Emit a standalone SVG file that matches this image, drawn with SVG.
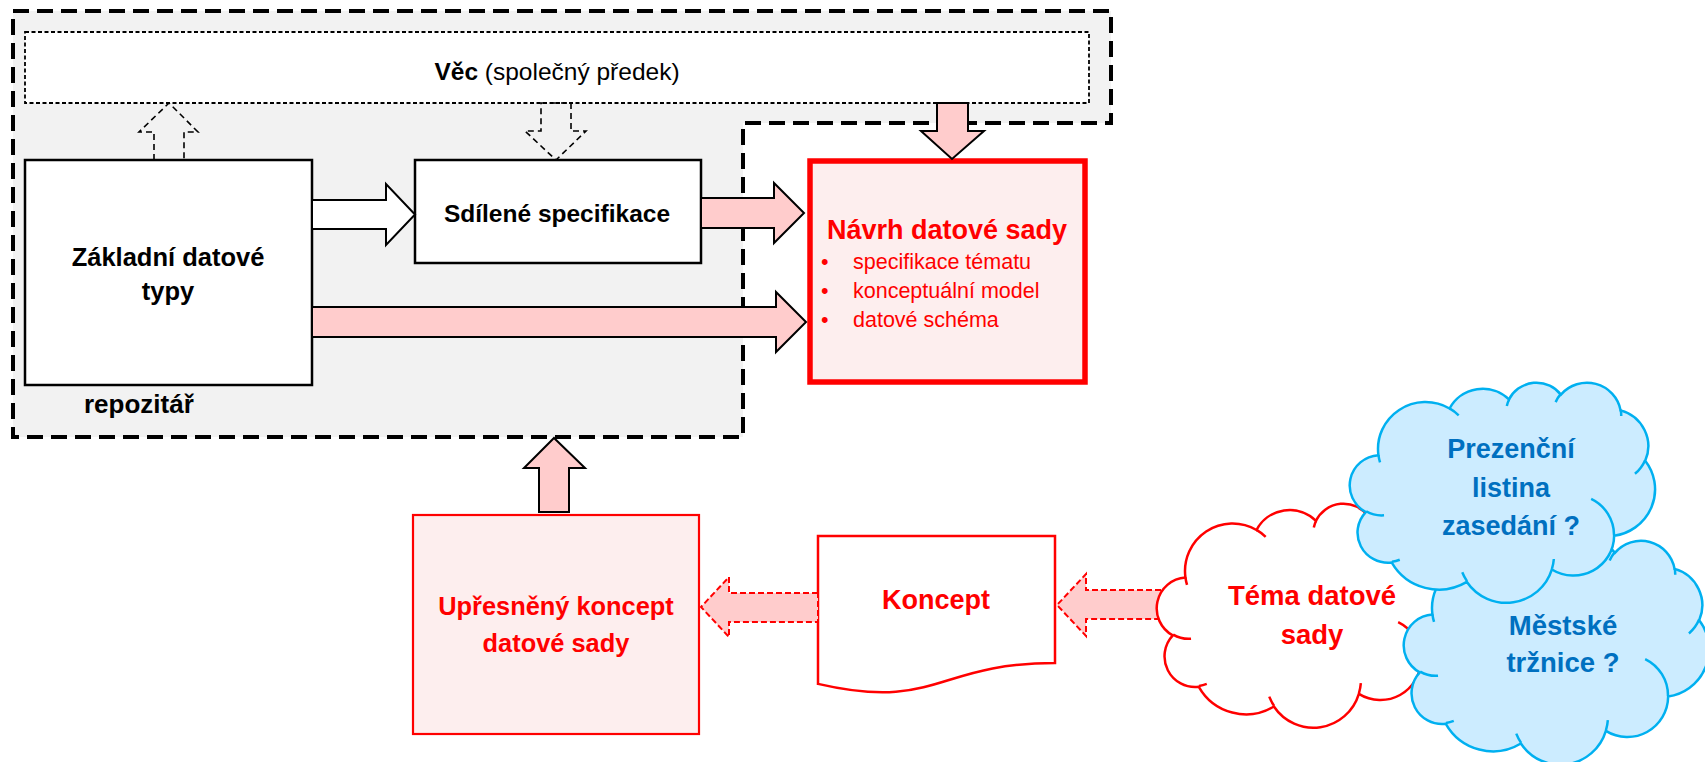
<svg xmlns="http://www.w3.org/2000/svg" xmlns:xlink="http://www.w3.org/1999/xlink" width="1705" height="762" viewBox="0 0 1705 762">
<style>
text{font-family:"Liberation Sans",Arial,sans-serif}
.b{font-weight:bold}
.blk{fill:#000}
.red{fill:#FF0000}
.blu{fill:#0070C0}
.box{fill:#fff;stroke:#000;stroke-width:2.5}
.pbox{fill:#FDEEEE;stroke:#FF0000}
.arw{stroke:#000;stroke-width:2;stroke-linejoin:miter}
.pink{fill:#FFCCCC}
.dashb{fill:none;stroke:#000;stroke-width:1.6;stroke-dasharray:6 4}
.dashr{fill:#FFCCCC;stroke:#FF0000;stroke-width:2;stroke-dasharray:6 3}
.cRed{fill:#fff;stroke:#FF0000;stroke-width:2.5}
.cBlue{fill:#CCECFF;stroke:#00B0F0;stroke-width:2.5}
.hRed{fill:none;stroke:#FF0000;stroke-width:2.5}
.hBlue{fill:none;stroke:#00B0F0;stroke-width:2.5}
</style>
<defs>
<path id="cloudBody" vector-effect="non-scaling-stroke" d="M39,143.7 A67.53,91.9 0 0 1 140.02,52 A53.33,72.67 0 0 1 224.5,34.27 A43.65,59.45 0 0 1 298.27,24.77 A48.57,65.95 0 0 1 383.11,55.73 A53.33,72.73 0 0 1 418.1,154.56 A67.75,92.2 0 0 1 373.94,301.96 A57.85,78.67 0 0 1 285.45,368.06 A67.52,92.15 0 0 1 164.69,392.58 A77.2,105.43 0 0 1 57.97,354.6 A43.6,59.18 0 0 1 21.03,255.4 A43.45,59.45 0 0 1 39,143.7 Z"/>
<path id="cloudHooks" vector-effect="non-scaling-stroke" d="M46.93,261.77 A43.45,59.45 0 0 1 21.58,253.79 M69.28,348.99 A43.6,59.18 0 0 1 58.2,352.8 M164.78,390.9 A67.52,92.15 0 0 1 158.1,373.51 M288.27,347.51 A67.52,92.15 0 0 1 285.61,366.6 M341.29,229.54 A57.85,78.67 0 0 1 373.77,300.87 M417.98,153.54 A53.33,72.73 0 0 1 403.5,180.3 M383.24,54.26 A48.57,65.95 0 0 1 384,66.9 M290.78,39.52 A48.57,65.95 0 0 1 298.2,23.39 M221.41,47.2 A43.65,59.45 0 0 1 225,33.3 M140,51.92 A67.53,91.9 0 0 1 153.03,65.43 M41.27,157.89 A67.53,91.9 0 0 1 39,143.7"/>
</defs>

<g id="repozitar">
<path d="M13,11 H1111 V123 H743 V437 H13 Z" fill="#F2F2F2" stroke="#000" stroke-width="4" stroke-dasharray="16 8"/>
<text x="84" y="413" font-size="26" class="b blk">repozitář</text>
</g>

<g id="vec">
<rect x="25" y="32" width="1064" height="71" fill="#fff" stroke="#000" stroke-width="1.8" stroke-dasharray="4 2.5"/>
<text x="557" y="80" font-size="24.5" text-anchor="middle" class="blk"><tspan class="b">Věc</tspan> (společný předek)</text>
</g>

<g id="zakladni">
<rect x="25" y="160" width="287" height="225" class="box"/>
<text x="168" y="266" font-size="25.5" text-anchor="middle" class="b blk">Základní datové</text>
<text x="168" y="300" font-size="25.5" text-anchor="middle" class="b blk">typy</text>
</g>

<g id="sdilene">
<rect x="415" y="160" width="286" height="103" class="box"/>
<text x="557" y="222" font-size="24.5" text-anchor="middle" class="b blk">Sdílené specifikace</text>
</g>

<g id="navrh">
<rect x="810" y="161" width="275" height="221" class="pbox" stroke-width="5.5"/>
<text x="947" y="239" font-size="27" text-anchor="middle" class="b red">Návrh datové sady</text>
<g font-size="21.5" class="red">
<text x="821" y="269">•</text><text x="853" y="269">specifikace tématu</text>
<text x="821" y="298">•</text><text x="853" y="298">konceptuální model</text>
<text x="821" y="327">•</text><text x="853" y="327">datové schéma</text>
</g>
</g>

<g id="upresneny">
<rect x="413" y="515" width="286" height="219" class="pbox" stroke-width="2.2"/>
<text x="556" y="615" font-size="25.4" text-anchor="middle" class="b red">Upřesněný koncept</text>
<text x="556" y="652" font-size="25.4" text-anchor="middle" class="b red">datové sady</text>
</g>

<g id="koncept">
<path d="M818,536 H1055 V663 C936.5,663 936.5,711.4 818,683.9 Z" fill="#fff" stroke="#FF0000" stroke-width="2.5"/>
<text x="936" y="609" font-size="27" text-anchor="middle" class="b red">Koncept</text>
</g>

<g id="connectors">
<polygon points="154,160 154,132 139,132 169,103 198,132 184,132 184,160" class="dashb"/>
<polygon points="541,103 571,103 571,131 586,131 556,160 525,131 541,131" class="dashb"/>
<polygon points="937,103 968,103 968,131 984,131 952,159 921,131 937,131" class="arw pink"/>
<polygon points="312,200 386,200 386,184 415,214.5 386,245 386,229 312,229" class="arw" fill="#fff"/>
<polygon points="701,198 774,198 774,183 804,213 774,243 774,228 701,228" class="arw pink"/>
<polygon points="312,307 776,307 776,292 806,322 776,352 776,337 312,337" class="arw pink"/>
<polygon points="539,512 539,468 524,468 554,438 585,468 569,468 569,512" class="arw pink"/>
<polygon points="818,593 729,593 729,577 701,607 729,637 729,622 818,622" class="dashr"/>
<polygon points="1170,590 1086,590 1086,574 1057,605 1086,636 1086,619 1170,619" class="dashr"/>
</g>

<g id="tema">
<use xlink:href="#cloudBody" class="cRed" transform="translate(1158,503) scale(0.7037,0.5185)"/>
<use xlink:href="#cloudHooks" class="hRed" transform="translate(1158,503) scale(0.7037,0.5185)"/>
<text x="1312" y="605" font-size="27.5" text-anchor="middle" class="b red">Téma datové</text>
<text x="1312" y="644" font-size="27.5" text-anchor="middle" class="b red">sady</text>
</g>

<g id="mestske">
<use xlink:href="#cloudBody" class="cBlue" transform="translate(1405,540) scale(0.7037,0.5185)"/>
<use xlink:href="#cloudHooks" class="hBlue" transform="translate(1405,540) scale(0.7037,0.5185)"/>
<text x="1563" y="635" font-size="27.5" text-anchor="middle" class="b blu">Městské</text>
<text x="1563" y="672" font-size="27.5" text-anchor="middle" class="b blu">tržnice ?</text>
</g>

<g id="prezencni">
<use xlink:href="#cloudBody" class="cBlue" transform="translate(1351,382) scale(0.7037,0.5093)"/>
<use xlink:href="#cloudHooks" class="hBlue" transform="translate(1351,382) scale(0.7037,0.5093)"/>
<text x="1511" y="458" font-size="27" text-anchor="middle" class="b blu">Prezenční</text>
<text x="1511" y="497" font-size="27" text-anchor="middle" class="b blu">listina</text>
<text x="1511" y="535" font-size="27" text-anchor="middle" class="b blu">zasedání ?</text>
</g>
</svg>
